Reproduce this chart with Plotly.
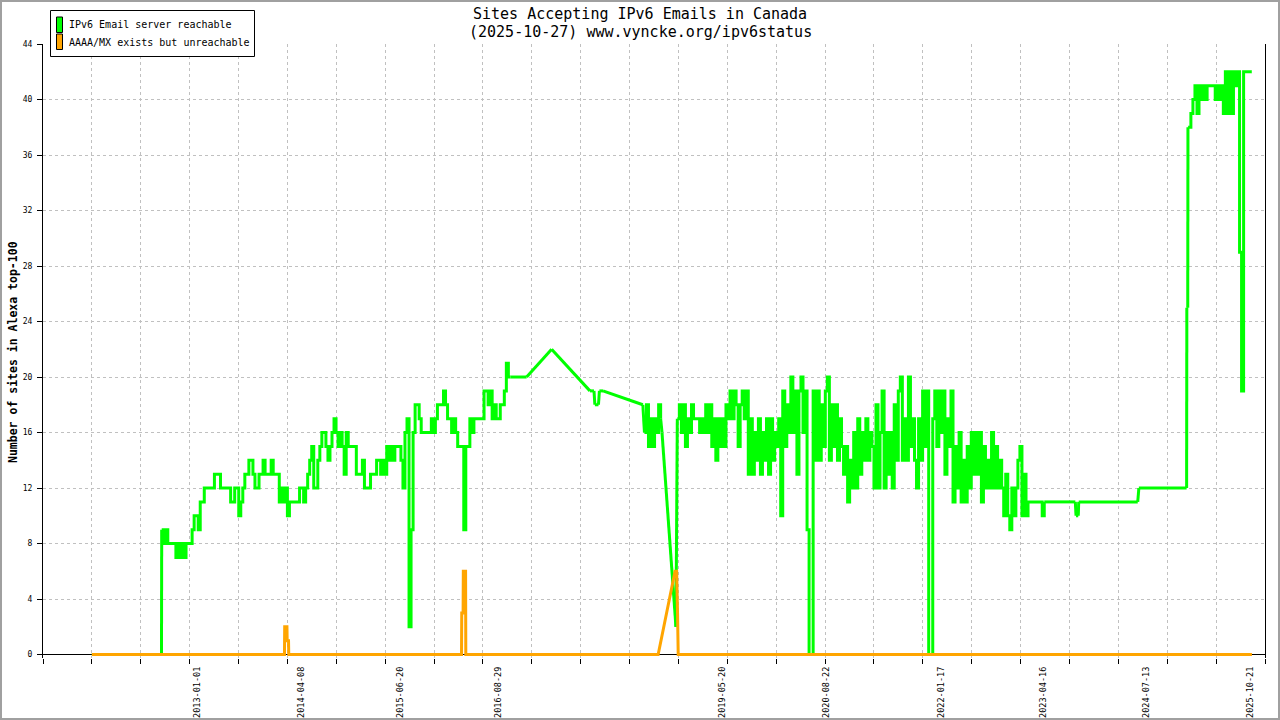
import pandas as pd
import plotly.graph_objects as go

TITLE = "Sites Accepting IPv6 Emails in Canada"
SUBTITLE = "(2025-10-27) www.vyncke.org/ipv6status"
SERIES_NAMES = ["IPv6 Email server reachable", "AAAA/MX exists but unreachable"]
Y_LABEL = "Number of sites in Alexa top-100"
TICK_DATES = ["2013-01-01", "2014-04-08", "2015-06-20", "2016-08-29", "2019-05-20",
              "2020-08-22", "2022-01-17", "2023-04-16", "2024-07-13", "2025-10-21"]
Y_TICKS = list(range(0, 45, 4))

# --- "IPv6 Email server reachable": isolated samples ---
reach_sparse_dates = ["2011-09-21", "2012-07-26",
                      "2017-01-02", "2017-04-23", "2017-10-10", "2017-10-28", "2017-11-01",
                      "2017-11-17", "2017-11-21", "2017-12-07", "2018-06-02",
                      "2018-08-26", "2018-10-27",
                      "2023-09-04", "2023-09-07", "2023-09-17", "2023-09-19", "2024-06-07",
                      "2024-06-12", "2025-01-10", "2025-01-11", "2025-01-15", "2025-01-16",
                      "2025-10-27"]
reach_sparse_values = [0, 0,
                       20, 22, 19, 19, 18,
                       18, 19, 19, 18,
                       16, 2,
                       11, 10, 10, 11, 11,
                       12, 12, 25, 25, 38,
                       42]

# --- dense runs, one sample every 9 days ---
SAMPLE_STEP = "9D"
run1_start = "2012-07-27"
run1_values = [9, 8, 9, 8, 8, 8, 8, 7, 8, 7, 8, 7, 8, 8, 8, 9, 10, 10, 9, 11,
               11, 12, 12, 12, 12, 12, 13, 13, 13, 12, 12, 12, 12, 12, 11, 11, 12, 12, 10, 11,
               12, 13, 13, 14, 14, 13, 12, 12, 13, 13, 14, 13, 13, 13, 14, 13, 13, 13, 11, 12,
               11, 12, 10, 11, 11, 11, 11, 11, 12, 12, 11, 12, 13, 14, 15, 12, 12, 14, 15, 16,
               16, 15, 14, 15, 16, 17, 16, 15, 16, 15, 13, 16, 15, 15, 15, 15, 13, 13, 13, 14,
               12, 12, 12, 13, 13, 13, 14, 14, 13, 14, 13, 15, 14, 15, 14, 15, 15, 15, 14, 12,
               16, 17, 2, 9, 16, 18, 18, 17, 16, 16, 16, 16, 16, 17, 16, 17, 18, 18, 18, 19,
               18, 17, 17, 16, 17, 16, 15, 15, 15, 9, 15, 15, 17, 16, 17, 17, 17, 17, 17, 19,
               19, 18, 19, 17, 18, 17, 17, 18, 18, 19, 21, 20, 20]
run2_start = "2018-06-09"
run2_values = [16, 18, 15, 17, 15, 17, 16, 18, 17]
run3_start = "2018-11-02"
run3_values = [17, 18, 16, 18, 15, 17, 16, 18, 17, 17, 17, 16, 17, 16, 18, 16, 18, 15, 17, 14,
               17, 15, 17, 15, 18, 17, 19, 17, 19, 18, 15, 18, 19, 17, 19, 13, 17, 13, 16, 14,
               17, 13, 16, 14, 17, 13, 17, 14, 16, 15, 17, 10, 19, 15, 18, 16, 20, 16, 19, 13,
               19, 20, 16, 19, 9, 0, 0, 19, 14, 19, 14, 18, 15, 19, 20, 14, 18, 15, 18, 14,
               17, 15, 13, 15, 11, 14, 12, 16, 12, 17, 13, 16, 14, 17, 14, 16, 15, 12, 18, 12,
               16, 19, 12, 16, 13, 16, 12, 18, 14, 19, 20, 14, 17, 14, 20, 15, 17, 14, 12, 17,
               14, 19, 15, 19, 0, 0, 17, 19, 15, 19, 16, 19, 13, 17, 15, 19, 11, 15, 12, 16,
               11, 14, 11, 15, 12, 16, 13, 16, 13, 16, 11, 15, 12, 14, 12, 16, 12, 15, 12, 14,
               12, 10, 13, 10, 9, 12, 10, 12, 14, 15, 10, 13, 10, 11, 11, 11, 11, 11, 11, 11,
               10, 11]
run4_start = "2025-01-20"
run4_values = [38, 39, 40, 41, 39, 41, 40, 41, 40, 41, 41, 41, 41, 40, 41, 40, 41, 39, 42, 39,
               42, 39, 42, 41, 42, 29, 19, 42, 42, 42, 42, 42]

# --- "AAAA/MX exists but unreachable" ---
unreach_dates = ["2011-09-21", "2014-01-23", "2014-01-24", "2014-02-03", "2014-02-04",
                 "2014-02-10", "2014-02-11", "2016-03-19", "2016-03-20", "2016-03-26",
                 "2016-03-27", "2016-04-06", "2016-04-07", "2018-08-09", "2018-10-23",
                 "2018-10-30", "2018-11-03", "2018-11-06", "2025-10-27"]
unreach_values = [0, 0, 2, 2, 1, 1, 0, 0, 3, 3, 6, 6, 0, 0, 6, 6, 3, 0, 0]

# ---------------- build reachable series ----------------
parts = [pd.DataFrame({"date": pd.to_datetime(reach_sparse_dates), "v": reach_sparse_values,
                       "run": -1})]
runs = [(run1_start, run1_values), (run2_start, run2_values),
        (run3_start, run3_values), (run4_start, run4_values)]
for k, (start, vals) in enumerate(runs):
    parts.append(pd.DataFrame({"date": pd.date_range(start, periods=len(vals), freq=SAMPLE_STEP),
                               "v": vals, "run": k}))
reach = pd.concat(parts).sort_values("date").reset_index(drop=True)

# consecutive points inside one dense run are drawn as steps, the rest as straight joins
join_x, join_y = [], []
for i in range(len(reach) - 1):
    a, b = reach.iloc[i], reach.iloc[i + 1]
    if a["run"] >= 0 and a["run"] == b["run"]:
        continue
    join_x += [a["date"], b["date"], None]
    join_y += [a["v"], b["v"], None]

GREEN = "#00ff00"
ORANGE = "#ffa500"
MONO = "DejaVu Sans Mono"

fig = go.Figure()
fig.add_trace(go.Scatter(x=join_x, y=join_y, mode="lines", name=SERIES_NAMES[0],
                         line=dict(color=GREEN, width=3), showlegend=False, connectgaps=False))
for k in range(len(runs)):
    seg = reach[reach["run"] == k]
    fig.add_trace(go.Scatter(x=seg["date"], y=seg["v"], mode="lines", name=SERIES_NAMES[0],
                             line=dict(color=GREEN, width=3, shape="hv"), showlegend=False))
fig.add_trace(go.Scatter(x=pd.to_datetime(unreach_dates), y=unreach_values, mode="lines",
                         name=SERIES_NAMES[1], line=dict(color=ORANGE, width=3), showlegend=False))

# plot-area pixel box (for placing legend/frame decorations in paper coords)
L, R, T, B = 43, 1265, 44, 658


def px(x):
    return (x - L) / (R - L)


def py(y):
    return (B - y) / (B - T)


shapes = [
    dict(type="rect", xref="paper", yref="paper", x0=px(1), x1=px(1279), y0=py(1), y1=py(719),
         line=dict(color="#a0a0a0", width=2), fillcolor="rgba(0,0,0,0)", layer="below"),
    dict(type="rect", xref="paper", yref="paper", x0=px(50.5), x1=px(254.5), y0=py(10.5), y1=py(56.5),
         line=dict(color="black", width=1), fillcolor="white", layer="above"),
    dict(type="rect", xref="paper", yref="paper", x0=px(56.5), x1=px(62.5), y0=py(17), y1=py(32.5),
         line=dict(color="black", width=1), fillcolor=GREEN, layer="above"),
    dict(type="rect", xref="paper", yref="paper", x0=px(56.5), x1=px(62.5), y0=py(34), y1=py(49.5),
         line=dict(color="black", width=1), fillcolor=ORANGE, layer="above"),
]

annotations = [
    dict(text=SERIES_NAMES[0], xref="paper", yref="paper", x=px(67), y=py(25), xanchor="left",
         yanchor="middle", showarrow=False, font=dict(family=MONO, size=10, color="black")),
    dict(text=SERIES_NAMES[1], xref="paper", yref="paper", x=px(67), y=py(42.5), xanchor="left",
         yanchor="middle", showarrow=False, font=dict(family=MONO, size=10, color="black")),
    dict(text=Y_LABEL, xref="paper", yref="paper", x=px(13), y=py(352), xanchor="center",
         yanchor="middle", textangle=-90, showarrow=False,
         font=dict(family=MONO, size=11.5, color="black", weight="bold")),
    dict(text=TITLE, xref="paper", yref="paper", x=px(640), y=py(13.5), xanchor="center",
         yanchor="middle", showarrow=False, font=dict(family=MONO, size=15, color="black")),
    dict(text=SUBTITLE, xref="paper", yref="paper", x=px(640), y=py(32), xanchor="center",
         yanchor="middle", showarrow=False, font=dict(family=MONO, size=15, color="black")),
]

fig.update_layout(
    width=1280, height=720,
    margin=dict(l=L, r=1280 - R, t=T, b=720 - B, pad=0, autoexpand=False),
    paper_bgcolor="white", plot_bgcolor="white",
    shapes=shapes, annotations=annotations,
    showlegend=False, hovermode=False,
    font=dict(family=MONO, color="black"),
)

fig.update_xaxes(
    type="date", range=["2011-02-16", "2025-12-24"], automargin=False,
    tickmode="array", tickvals=TICK_DATES, ticktext=TICK_DATES, tickangle=-90,
    ticks="", showgrid=False, zeroline=False, showline=False,
    tickfont=dict(family=MONO, size=8.5, color="black"), ticklabelstandoff=6,
    minor=dict(tick0="2011-09-21", dtick=217 * 86400000, ticks="outside", ticklen=5,
               tickcolor="black", tickwidth=1, showgrid=True, gridcolor="#c0c0c0",
               griddash="dot", gridwidth=1),
)
fig.update_yaxes(
    range=[-0.25, 44], automargin=False, tickmode="array", tickvals=Y_TICKS,
    ticks="outside", ticklen=5,
    tickcolor="black", showline=True, linecolor="black", linewidth=1, mirror=True,
    showgrid=True, gridcolor="#c0c0c0", griddash="dot", gridwidth=1,
    zeroline=True, zerolinecolor="black", zerolinewidth=1,
    tickfont=dict(family=MONO, size=8, color="black"), ticklabelstandoff=3,
)

fig.write_html("out.html", config={"displayModeBar": False},
               post_script="document.body.style.margin='0';document.body.style.overflow='hidden';")
